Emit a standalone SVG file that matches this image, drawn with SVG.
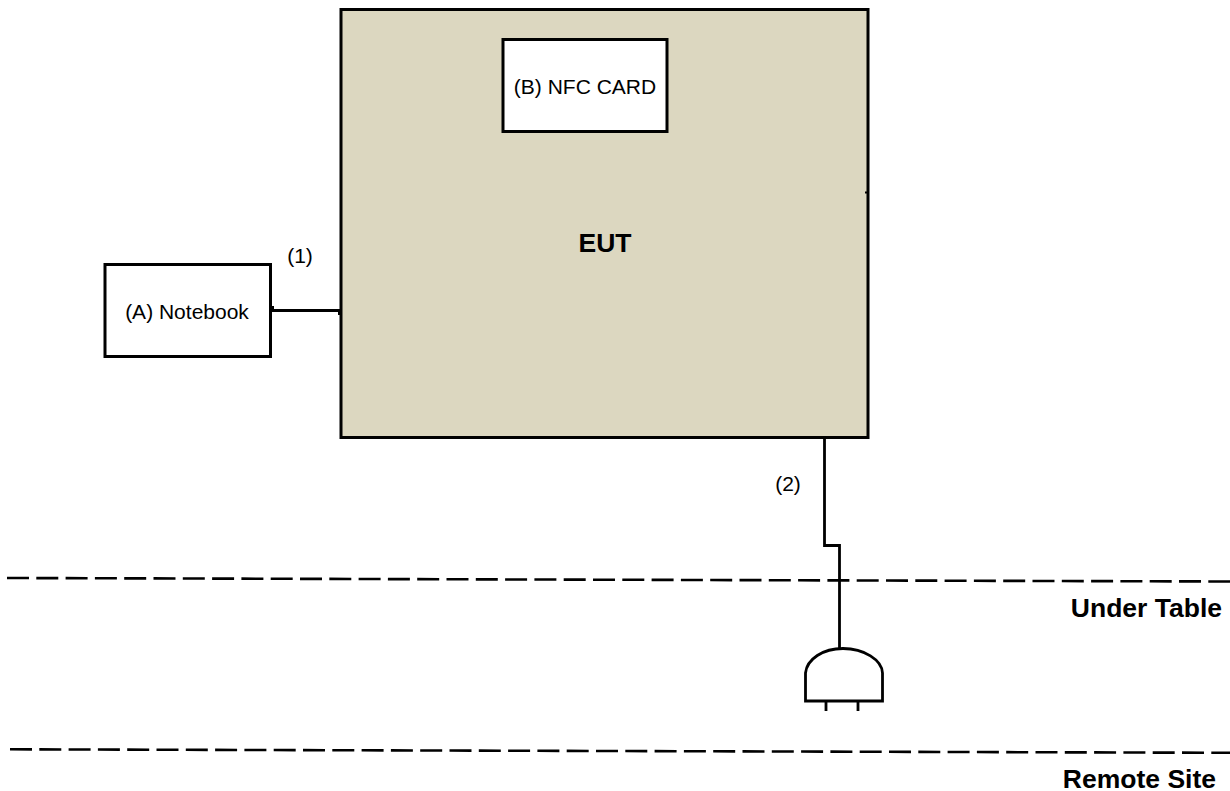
<svg xmlns="http://www.w3.org/2000/svg" width="1230" height="791" viewBox="0 0 1230 791">
<style>
.box{stroke:#000;stroke-width:3;fill:#fff}
.line{stroke:#000;stroke-width:2.8;fill:none}
.dash{stroke:#000;stroke-width:2.6;fill:none;stroke-dasharray:22 7.3}
text{font-family:"Liberation Sans",Arial,sans-serif;fill:#000}
.t{font-size:21px}
.b{font-size:26.5px;font-weight:bold}
</style>
<rect width="1230" height="791" fill="#fff"/>
<g id="eut"><rect class="box" style="fill:#dcd7c0" x="341" y="9.500" width="527" height="428"/><text class="b" x="605" y="252" text-anchor="middle">EUT</text></g>
<g id="nfc-card"><rect class="box" x="503" y="39.500" width="164" height="92"/><text class="t" x="585" y="94" text-anchor="middle">(B) NFC CARD</text></g>
<g id="notebook"><rect class="box" x="105" y="264.500" width="165.500" height="92"/><text class="t" x="187" y="319" text-anchor="middle">(A) Notebook</text></g>
<g id="connectors">
<path class="line" d="M270 310.500H341"/>
<path d="M271 306h3v5h-3zM338 310h3v5h-3zM865 191.500h3v2h-3z" fill="#000"/>
<path class="line" d="M824.500 438V545.500H839.500V650"/>
<path class="dash" d="M7 578L1230 581.500"/>
<path class="dash" d="M10 749.300L1230 752.800"/>
</g>
<g id="plug"><path class="line" d="M805.500 701V673C807 659 823 648.500 843 648.500C864 648.500 882 660 882.500 673V701Z"/><path class="line" d="M826 701V711M858 701V711"/></g>
<g id="labels">
<text class="t" x="300" y="263" text-anchor="middle">(1)</text>
<text class="t" x="788" y="491" text-anchor="middle">(2)</text>
<text class="b" x="1222" y="617" text-anchor="end">Under Table</text>
<text class="b" x="1216" y="788" text-anchor="end">Remote Site</text>
</g>
</svg>
